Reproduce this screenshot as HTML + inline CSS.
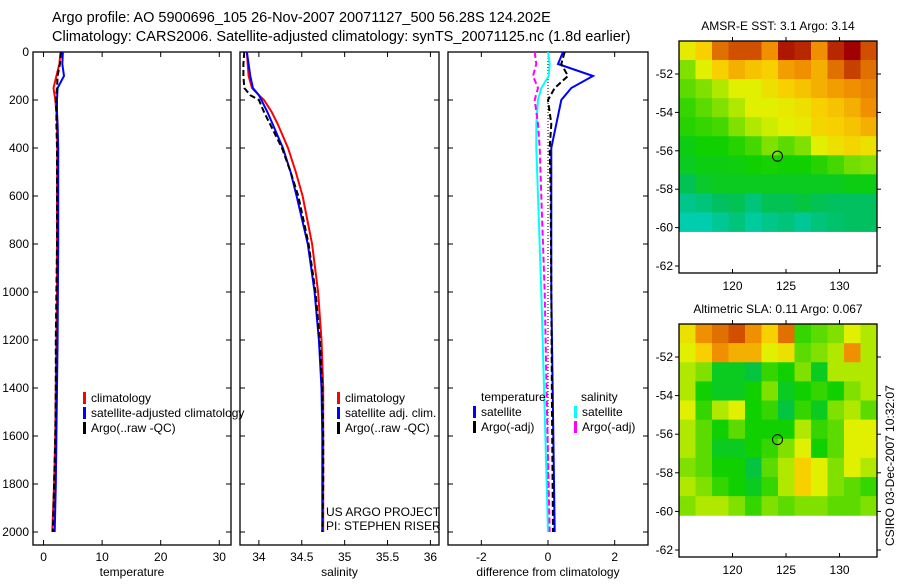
<!DOCTYPE html>
<html><head><meta charset="utf-8"><style>
body{margin:0;background:#fff;width:900px;height:580px;overflow:hidden}
svg text{font-family:"Liberation Sans",sans-serif;fill:#000}
</style></head><body>
<svg id="c" width="900" height="580">
<text x="52" y="22" font-size="14.5">Argo profile: AO 5900696_105 26-Nov-2007 20071127_500 56.28S 124.202E</text>
<text x="52" y="41" font-size="14.5">Climatology: CARS2006. Satellite-adjusted climatology: synTS_20071125.nc (1.8d earlier)</text>
<g id="g"></g>
</svg>
<script>
const depthsT=[0,50,100,150,200,250,300,400,600,800,1000,1200,1400,1600,1800,2000];
const tempClim=[2.9,2.7,2.2,1.7,2.0,2.2,2.3,2.35,2.3,2.3,2.3,2.2,2.1,2.0,1.8,1.5];
const tempSat=[3.3,3.2,3.5,2.4,2.3,2.3,2.4,2.5,2.5,2.5,2.45,2.4,2.3,2.2,2.1,1.9];
const tempArgo=[3.0,2.8,2.4,2.3,2.1,2.2,2.2,2.3,2.3,2.3,2.2,2.1,2.1,2.0,1.8,1.6];
const depthsS=[0,50,100,150,180,200,250,300,400,500,600,800,1000,1200,1400,1600,1800,2000];
const salClim=[33.86,33.87,33.88,33.92,34.0,34.06,34.15,34.22,34.34,34.43,34.51,34.62,34.69,34.73,34.75,34.75,34.75,34.75];
const salSat=[33.86,33.88,33.9,33.93,34.0,34.03,34.1,34.16,34.28,34.37,34.44,34.57,34.65,34.7,34.73,34.74,34.74,34.74];
const salArgo=[33.83,33.82,33.82,33.83,33.9,34.0,34.06,34.13,34.27,34.37,34.46,34.58,34.66,34.71,34.74,34.75,34.75,34.74];
const depthsD=[0,50,100,150,200,300,400,600,1000,1500,2000];
const dTempSat=[0.45,0.3,1.35,0.7,0.4,0.25,0.1,0.1,0.1,0.15,0.2];
const dTempArgo=[0.5,0.4,0.6,0.2,0.0,0.1,0.05,0.08,0.1,0.12,0.15];
const dSalSat=[0.0,0.05,0.02,-0.2,-0.3,-0.35,-0.35,-0.3,-0.2,-0.1,0.0];
const dSalArgo=[-0.4,-0.35,-0.45,-0.3,-0.4,-0.3,-0.25,-0.2,-0.1,-0.03,0.05];
const depthTicks=[0,200,400,600,800,1000,1200,1400,1600,1800,2000];
const tempTicks=[0,10,20,30];
const salTicks=[34,34.5,35,35.5,36];
const diffTicks=[-2,0,2];
const latTicks=[-52,-54,-56,-58,-60,-62];
const lonTicks=[120,125,130];
const sstGrid=[
[0.62,0.7,0.85,0.9,0.9,0.8,0.97,0.95,0.8,0.95,1,0.9],
[0.5,0.6,0.7,0.75,0.72,0.7,0.78,0.8,0.75,0.85,0.92,0.85],
[0.45,0.5,0.55,0.6,0.6,0.65,0.7,0.72,0.75,0.78,0.8,0.82],
[0.4,0.45,0.5,0.55,0.6,0.6,0.62,0.65,0.7,0.72,0.75,0.8],
[0.38,0.4,0.42,0.5,0.55,0.58,0.6,0.62,0.68,0.7,0.72,0.75],
[0.32,0.35,0.35,0.38,0.42,0.5,0.45,0.5,0.6,0.65,0.68,0.65],
[0.3,0.32,0.32,0.33,0.35,0.36,0.35,0.35,0.38,0.42,0.48,0.5],
[0.22,0.28,0.3,0.3,0.3,0.3,0.3,0.3,0.3,0.3,0.32,0.32],
[0.12,0.15,0.2,0.22,0.15,0.22,0.22,0.25,0.22,0.2,0.2,0.2],
[0.05,0.05,0.1,0.15,0.08,0.12,0.15,0.1,0.15,0.18,0.2,0.2]];
const slaGrid=[
[0.65,0.8,0.85,0.9,0.8,0.7,0.85,0.4,0.45,0.5,0.6,0.55],
[0.6,0.7,0.8,0.75,0.75,0.6,0.65,0.45,0.5,0.55,0.8,0.55],
[0.55,0.5,0.3,0.3,0.25,0.4,0.35,0.5,0.3,0.55,0.55,0.55],
[0.55,0.35,0.3,0.3,0.35,0.5,0.3,0.35,0.4,0.35,0.5,0.55],
[0.6,0.4,0.55,0.6,0.35,0.4,0.25,0.4,0.3,0.5,0.55,0.45],
[0.55,0.45,0.35,0.45,0.35,0.35,0.35,0.55,0.4,0.45,0.6,0.6],
[0.55,0.45,0.3,0.3,0.35,0.4,0.5,0.6,0.35,0.45,0.6,0.6],
[0.5,0.45,0.35,0.35,0.25,0.45,0.55,0.7,0.6,0.5,0.6,0.55],
[0.55,0.5,0.4,0.35,0.3,0.4,0.55,0.7,0.6,0.5,0.45,0.4],
[0.5,0.55,0.55,0.5,0.4,0.5,0.45,0.5,0.5,0.45,0.45,0.5]];

const NS='http://www.w3.org/2000/svg',G=document.getElementById('g');
function mk(t,a,p){const e=document.createElementNS(NS,t);for(const k in a)e.setAttribute(k,a[k]);(p||G).appendChild(e);return e;}
function txt(x,y,s,size,anchor,p){const e=mk('text',{x:x,y:y,'font-size':size||12,'text-anchor':anchor||'start'},p);e.textContent=s;return e;}
const Y0=52,Y1=532;
const yD=d=>Y0+(Y1-Y0)*d/2000;
function panel(name,L,R,xmin,xmax,ticks,label,ylabels){
  const xs=v=>L+(R-L)*(v-xmin)/(xmax-xmin);
  const g=mk('g',{});
  
  
  const r=mk('rect',{x:L,y:Y0,width:R-L,height:545-Y0,fill:'none',stroke:'#000','stroke-width':1.3},g);
  
  
  ticks.forEach(t=>{const x=xs(t);mk('line',{x1:x,x2:x,y1:545,y2:540,stroke:'#000'},g);mk('line',{x1:x,x2:x,y1:Y0,y2:Y0+5,stroke:'#000'},g);
    const e=txt(x,561,String(t),12,'middle',g);});
  depthTicks.forEach(d=>{const y=yD(d);mk('line',{x1:L,x2:L+5,y1:y,y2:y,stroke:'#000'},g);mk('line',{x1:R,x2:R-5,y1:y,y2:y,stroke:'#000'},g);
    if(ylabels){const e=txt(L-4,y+4,String(d),12,'end',g);}});
  const xl=txt((L+R)/2,576,label,12,'middle',g);
  
  
  return {xs,g};
}
function line(p,depths,vals,color,name,dash,w){
  const pts=depths.map((d,i)=>p.xs(vals[i]).toFixed(1)+','+yD(d).toFixed(1)).join(' ');
  const e=mk('polyline',{points:pts,fill:'none',stroke:color,'stroke-width':w||2,'stroke-dasharray':dash||'none'},p.g);
  
  
}
function legend(p,x,y,items){
  items.forEach((it,i)=>{const yy=y+i*15;mk('rect',{x:x,y:yy-10,width:3,height:12,fill:it[1]},p.g);
    const e=txt(x+8,yy,it[0],12,'start',p.g);});
}
const p1=panel('temperature-panel',33,231,-1.8,32,tempTicks,'temperature',true);
line(p1,depthsT,tempClim,'#f00','temp-climatology-line');
line(p1,depthsT,tempSat,'#00f','temp-satellite-line');
line(p1,depthsT,tempArgo,'#000','temp-argo-line','6,3');
legend(p1,83,402,[['climatology','#f00'],['satellite-adjusted climatology','#00f'],['Argo(..raw -QC)','#000']]);
const p2=panel('salinity-panel',240,439,33.78,36.1,salTicks,'salinity',false);
line(p2,depthsS,salClim,'#f00','sal-climatology-line');
line(p2,depthsS,salSat,'#00f','sal-satellite-line');
line(p2,depthsS,salArgo,'#000','sal-argo-line','6,3');
legend(p2,337,402,[['climatology','#f00'],['satellite adj. clim.','#00f'],['Argo(..raw -QC)','#000']]);
const n1=txt(326,516,'US ARGO PROJECT',12,'start',p2.g);
const n2=txt(326,530,'PI: STEPHEN RISER',12,'start',p2.g);
const p3=panel('difference-panel',448,648,-3,3,diffTicks,'difference from climatology',false);
mk('line',{x1:p3.xs(0),x2:p3.xs(0),y1:Y0,y2:Y1,stroke:'#000','stroke-dasharray':'1,2'},p3.g);
line(p3,depthsD,dTempSat,'#00f','diff-temp-satellite-line');
line(p3,depthsD,dTempArgo,'#000','diff-temp-argo-line','6,3');
line(p3,depthsD,dSalSat,'#0ff','diff-sal-satellite-line');
line(p3,depthsD,dSalArgo,'#f0f','diff-sal-argo-line','6,3');
const lt=txt(481,401,'temperature',12,'start',p3.g);
const ls=txt(581,401,'salinity',12,'start',p3.g);
legend(p3,473,416,[['satellite','#00f'],['Argo(-adj)','#000']]);
legend(p3,574,416,[['satellite','#0ff'],['Argo(-adj)','#f0f']]);

const stops=[[0,[0,208,200]],[0.2,[0,192,96]],[0.35,[16,208,0]],[0.5,[128,224,0]],[0.6,[224,240,0]],[0.7,[248,208,0]],[0.8,[240,144,0]],[0.9,[208,80,0]],[1,[160,0,0]]];
function cmap(v){for(let i=1;i<stops.length;i++){if(v<=stops[i][0]){const a=stops[i-1],b=stops[i],t=(v-a[0])/(b[0]-a[0]);return 'rgb('+a[1].map((c,k)=>Math.round(c+(b[1][k]-c)*t)).join(',')+')';}}return 'rgb(160,0,0)';}
function map(name,top,bot,grid,title){
  const L=679,R=877,lonMin=115,lonMax=133.5;
  const lat0=-52,yLat0=top+33,pxDeg=(bot-top-40)/10;
  const ys=lat=>yLat0+(lat0-lat)*pxDeg;
  const xs=lon=>L+(R-L)*(lon-lonMin)/(lonMax-lonMin);
  const g=mk('g',{});
  
  
  const latTop=lat0+(yLat0-top)/pxDeg,latBot=-60.2;
  const nr=grid.length,nc=grid[0].length;
  grid.forEach((row,i)=>row.forEach((v,j)=>{
    const la1=latTop-(latTop-latBot)*i/nr,la2=latTop-(latTop-latBot)*(i+1)/nr;
    const lo1=lonMin+(lonMax-lonMin)*j/nc,lo2=lonMin+(lonMax-lonMin)*(j+1)/nc;
    const c=mk('rect',{x:xs(lo1),y:ys(la1),width:xs(lo2)-xs(lo1)+0.5,height:ys(la2)-ys(la1)+0.5,fill:cmap(v)},g);
    
    
  }));
  mk('rect',{x:L,y:top,width:R-L,height:bot-top,fill:'none',stroke:'#000','stroke-width':1.3},g);
  latTicks.forEach(la=>{const y=ys(la);mk('line',{x1:L,x2:L-4,y1:y,y2:y,stroke:'#000'},g);mk('line',{x1:R,x2:R+4,y1:y,y2:y,stroke:'#000'},g);
    const e=txt(L-6,y+4,String(la),12,'end',g);});
  lonTicks.forEach(lo=>{const x=xs(lo);mk('line',{x1:x,x2:x,y1:top,y2:top-4,stroke:'#000'},g);mk('line',{x1:x,x2:x,y1:bot,y2:bot-4,stroke:'#000'},g);
    const e=txt(x,bot+17,String(lo),12,'middle',g);});
  const m=mk('circle',{cx:xs(124.202),cy:ys(-56.28),r:5,fill:'none',stroke:'#000'},g);
  
  
  const t=txt((L+R)/2,top-11,title,12,'middle',g);
  
  
}
map('sst-map',41,273,sstGrid,'AMSR-E SST: 3.1 Argo: 3.14');
map('sla-map',324,557,slaGrid,'Altimetric SLA: 0.11 Argo: 0.067');
const stamp=txt(0,0,'CSIRO 03-Dec-2007 10:32:07',12,'start');
stamp.setAttribute('transform','translate(894,546) rotate(-90)');


</script>
</body></html>
